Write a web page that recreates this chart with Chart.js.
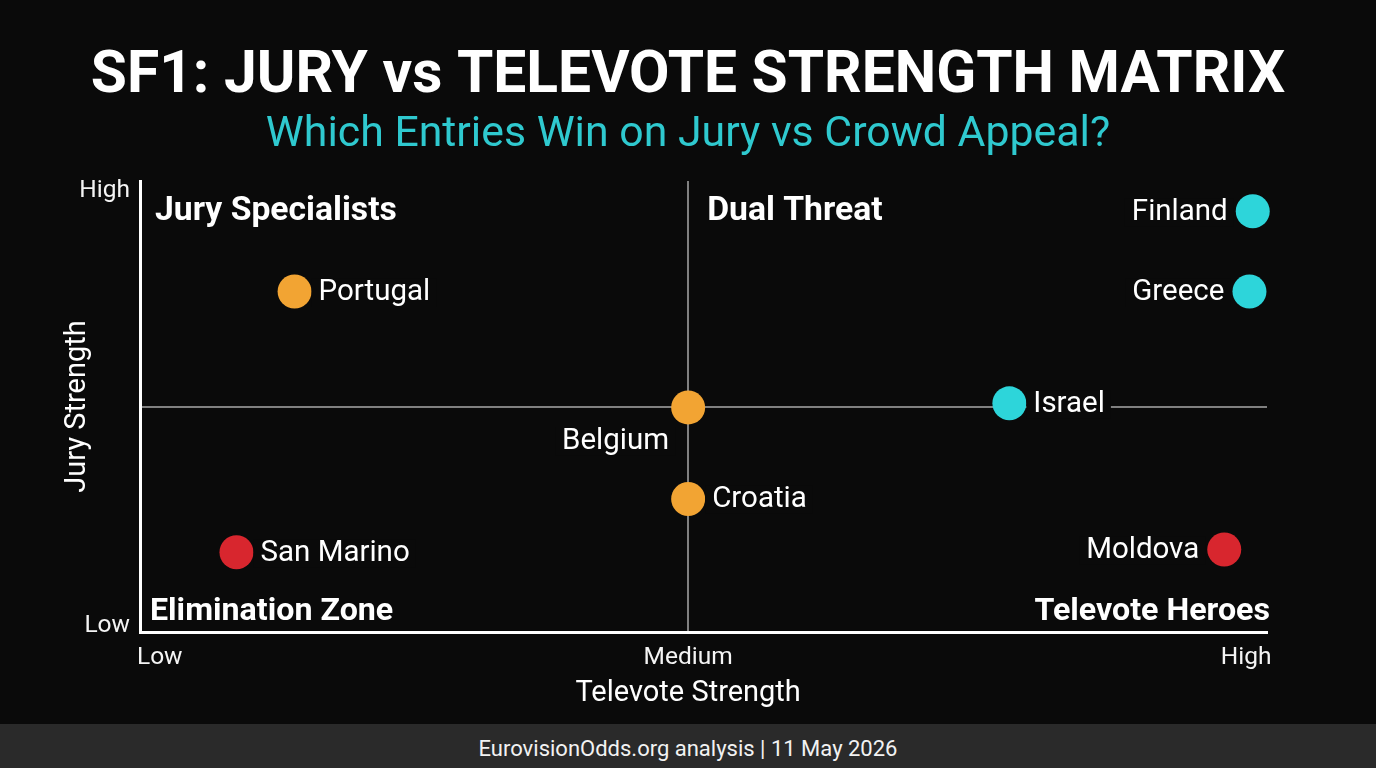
<!DOCTYPE html>
<html>
<head>
<meta charset="utf-8">
<title>SF1: Jury vs Televote Strength Matrix</title>
<script src="https://cdn.jsdelivr.net/npm/chart.js@4"></script>
<style>
html, body { margin: 0; padding: 0; background: #0a0a0a; overflow: hidden; }
#wrap { width: 1376px; height: 724px; }
#footer {
    height: 44px; background: #2a2a2a; color: #f2f2f2; text-align: center;
    font: 22px Roboto; line-height: 50px;
}
</style>
</head>
<body>
<div id="wrap"><canvas id="matrix" width="1376" height="724"></canvas></div>
<div id="footer">EurovisionOdds.org analysis | 11 May 2026</div>
<script>
const countries = ['Finland', 'Greece', 'Portugal', 'Israel', 'Belgium', 'Croatia', 'Moldova', 'San Marino'];
const televote = [10.15, 10.12, 1.41, 7.93, 5, 5, 9.89, 0.88];
const jury = [9.33, 7.55, 7.55, 5.07, 4.98, 2.95, 1.83, 1.77];
const dotColors = ['#2dd5da', '#2dd5da', '#f2a433', '#2dd5da', '#f2a433', '#f2a433', '#d8262e', '#d8262e'];
const labelSides = ['left', 'left', 'right', 'right', 'below', 'right', 'left', 'right'];
const xTickLabels = ['Low', 'Medium', 'High'];
const yTickLabels = ['Low', '', 'High'];
const xTickValues = [0.18, 5, 10.09];
const yTickValues = [0.14, 5, 9.78];
const zoneNames = ['Jury Specialists', 'Dual Threat', 'Elimination Zone', 'Televote Heroes'];

const BG = '#0a0a0a';

// point names, zone names and the axis titles
const matrixText = {
    id: 'matrixText',
    afterDatasetsDraw(chart) {
        const { ctx, chartArea, scales } = chart;
        const meta = chart.getDatasetMeta(0);
        ctx.save();
        ctx.fillStyle = '#fff';
        ctx.textBaseline = 'middle';
        ctx.textAlign = 'left';

        ctx.font = '29.5px Roboto';
        countries.forEach((name, i) => {
            const p = meta.data[i];
            const w = ctx.measureText(name).width;
            let x = p.x + 24, y = p.y + 1;
            if (labelSides[i] === 'left') x = p.x - 25 - w;
            if (labelSides[i] === 'below') { x = p.x - 19 - w; y = p.y + 34; }
            // Israel sits on the centre line, the label cuts it
            ctx.fillStyle = BG;
            ctx.fillRect(x - 7, y - 14, w + 13, 28);
            ctx.fillStyle = '#fff';
            ctx.fillText(name, x, y);
        });

        ctx.font = 'bold 33.7px Roboto';
        ctx.fillText(zoneNames[0], chartArea.left + 15, chartArea.top + 31);
        ctx.fillText(zoneNames[1], scales.x.getPixelForValue(5) + 19, chartArea.top + 31);
        ctx.font = 'bold 32.2px Roboto';
        ctx.fillText(zoneNames[2], chartArea.left + 10, chartArea.bottom - 20);
        ctx.textAlign = 'right';
        ctx.fillText(zoneNames[3], chartArea.right + 3, chartArea.bottom - 20);

        ctx.font = '29px Roboto';
        ctx.textAlign = 'center';
        ctx.fillText('Televote Strength', scales.x.getPixelForValue(5), chartArea.bottom + 62);
        ctx.translate(78, (chartArea.top + chartArea.bottom) / 2);
        ctx.rotate(-Math.PI / 2);
        ctx.fillText('Jury Strength', 0, 0);
        ctx.restore();
    }
};

const centreLine = (c) => c.tick && c.tick.value === 5 ? '#808080' : 'transparent';

new Chart(document.getElementById('matrix'), {
    type: 'scatter',
    data: {
        datasets: [{
            data: televote.map((v, i) => ({ x: v, y: jury[i] })),
            pointBackgroundColor: dotColors,
            pointBorderWidth: 0,
            pointRadius: 17,
            clip: false
        }]
    },
    plugins: [matrixText],
    options: {
        responsive: false,
        animation: false,
        plugins: {
            legend: { display: false },
            tooltip: { enabled: false },
            title: {
                display: true,
                text: 'SF1: JURY vs TELEVOTE STRENGTH MATRIX',
                color: '#fff',
                font: { family: 'Roboto', size: 58.7, weight: 'bold', lineHeight: 1 },
                padding: { top: 48, bottom: 7.3 }
            },
            subtitle: {
                display: true,
                text: 'Which Entries Win on Jury vs Crowd Appeal?',
                color: '#2fc9cf',
                font: { family: 'Roboto', size: 42.8, weight: 'normal', lineHeight: 1 },
                padding: { top: 0, bottom: 24.2 }
            }
        },
        scales: {
            x: {
                type: 'linear',
                min: 0,
                max: 10.28,
                afterBuildTicks: (s) => { s.ticks = xTickValues.map(v => ({ value: v })); },
                afterFit: (s) => { s.height = 92; },
                border: { color: '#fff', width: 3 },
                grid: { drawTicks: false, lineWidth: 2, color: centreLine },
                ticks: {
                    autoSkip: false,
                    maxRotation: 0,
                    padding: 11,
                    color: '#f4f4f4',
                    font: { family: 'Roboto', size: 24.5 },
                    callback: (v, i) => xTickLabels[i]
                }
            },
            y: {
                type: 'linear',
                min: 0,
                max: 10,
                afterBuildTicks: (s) => { s.ticks = yTickValues.map(v => ({ value: v })); },
                afterFit: (s) => { s.width = 140; },
                border: { color: '#fff', width: 3 },
                grid: { drawTicks: false, lineWidth: 2, color: centreLine },
                ticks: {
                    autoSkip: false,
                    padding: 10,
                    color: '#f4f4f4',
                    font: { family: 'Roboto', size: 24.5 },
                    callback: (v, i) => yTickLabels[i]
                }
            },
            // empty strip so the title stays centred on the page
            rightMargin: {
                position: 'right',
                min: 0,
                max: 1,
                afterFit: (s) => { s.width = 109; },
                border: { display: false },
                grid: { display: false },
                ticks: { display: false }
            }
        }
    }
});
</script>
</body>
</html>
